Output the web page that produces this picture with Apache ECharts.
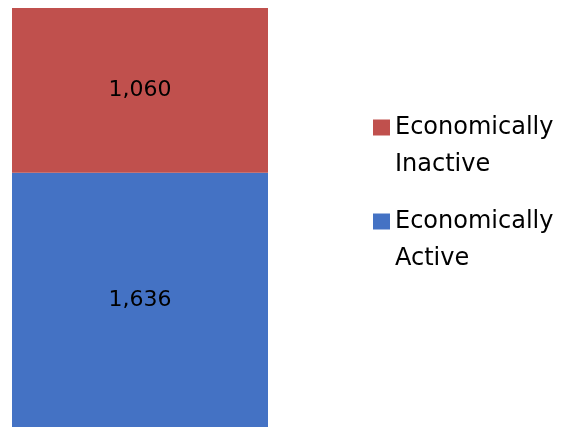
<!DOCTYPE html>
<html>
<head>
<meta charset="utf-8">
<script src="https://cdn.jsdelivr.net/npm/echarts@6/dist/echarts.min.js"></script>
<style>
  html, body { margin: 0; padding: 0; background: #fff; }
  #chart { width: 563px; height: 427px; }
</style>
</head>
<body>
<div id="chart"></div>
<script>
var categories = ['Total'];
var activeValues = [1636];
var inactiveValues = [1060];
var seriesNames = ['Economically\nActive', 'Economically\nInactive'];

var myChart = echarts.init(document.getElementById('chart'));
var total = activeValues[0] + inactiveValues[0];

function fmt(p) {
    return p.value.toLocaleString('en-US');
}

var option = {
    animation: false,
    grid: { left: 12, top: 8, width: 256, bottom: -3 },
    xAxis: {
        type: 'category',
        data: categories,
        show: false
    },
    yAxis: {
        type: 'value',
        min: 0,
        max: total,
        show: false
    },
    legend: {
        orient: 'vertical',
        left: 368,
        top: 67,
        itemWidth: 17,
        itemHeight: 16,
        itemGap: -17,
        icon: 'rect',
        data: [seriesNames[1], seriesNames[0]],
        // empty first line so the square sits beside "Economically"
        formatter: function (name) { return '\n' + name; },
        textStyle: {
            fontFamily: 'DejaVu Sans',
            fontSize: 24,
            lineHeight: 37,
            color: '#000'
        }
    },
    series: [
        {
            name: seriesNames[0],
            type: 'bar',
            stack: 'all',
            barWidth: '100%',
            data: activeValues,
            itemStyle: { color: '#4472C4' },
            label: {
                show: true,
                formatter: fmt,
                fontFamily: 'DejaVu Sans',
                fontSize: 22,
                color: '#000'
            }
        },
        {
            name: seriesNames[1],
            type: 'bar',
            stack: 'all',
            barWidth: '100%',
            data: inactiveValues,
            itemStyle: { color: '#C0504D' },
            label: {
                show: true,
                formatter: fmt,
                fontFamily: 'DejaVu Sans',
                fontSize: 22,
                color: '#000'
            }
        }
    ]
};
myChart.setOption(option);
</script>
</body>
</html>
